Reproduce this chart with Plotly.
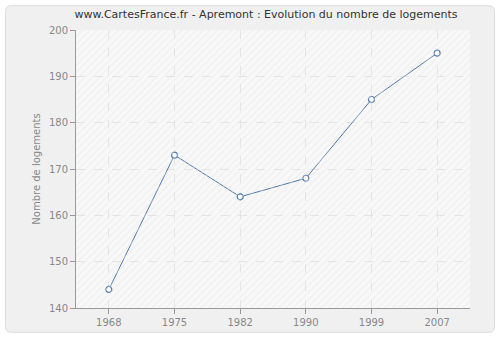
import plotly.graph_objects as go

years = ["1968", "1975", "1982", "1990", "1999", "2007"]
logements = [144, 173, 164, 168, 185, 195]
y_ticks = [140, 150, 160, 170, 180, 190, 200]

W, H = 500, 340
ML, MR, MT, MB = 76, 30, 30, 30
PW, PH = W - ML - MR, H - MT - MB

def px(x):
    return (x - ML) / PW

def py(y):
    return 1 - (y - MT) / PH

fig = go.Figure()

# hatched background of plot area
fig.add_trace(go.Bar(
    x=[0.5], y=[60], base=[140], width=[1], xaxis="x2", yaxis="y",
    marker=dict(color="rgba(0,0,0,0)", line=dict(width=0),
                pattern=dict(shape="/", fgcolor="#e6e6e6", bgcolor="rgba(0,0,0,0)",
                             size=5, solidity=0.25, fillmode="overlay")),
    hoverinfo="skip", showlegend=False,
))

fig.add_trace(go.Scatter(
    x=years, y=logements, mode="lines+markers",
    line=dict(color="#4a76ab", width=1),
    marker=dict(size=6, color="white", line=dict(color="#4a76ab", width=1.2)),
    showlegend=False,
))

# outer rounded panel
x0, x1, y0, y1, r = 5.5, 494.5, 5.5, 334.5, 6
def P(x, y):
    return f"{px(x)},{py(y)}"
path = (f"M {P(x0 + r, y0)} L {P(x1 - r, y0)} Q {P(x1, y0)} {P(x1, y0 + r)} "
        f"L {P(x1, y1 - r)} Q {P(x1, y1)} {P(x1 - r, y1)} "
        f"L {P(x0 + r, y1)} Q {P(x0, y1)} {P(x0, y1 - r)} "
        f"L {P(x0, y0 + r)} Q {P(x0, y0)} {P(x0 + r, y0)} Z")
fig.add_shape(type="path", path=path, xref="paper", yref="paper",
              fillcolor="#f0f0f0", line=dict(color="#dcdcdc", width=1), layer="below")
# plot area background
fig.add_shape(type="rect", x0=0, x1=1, y0=0, y1=1, xref="paper", yref="paper",
              fillcolor="#f8f8f8", line=dict(width=0), layer="below")

fig.update_layout(
    width=W, height=H,
    margin=dict(l=ML, r=MR, t=MT, b=MB),
    paper_bgcolor="white",
    plot_bgcolor="#f8f8f8",
    font=dict(family="DejaVu Sans", size=11, color="#888888"),
    title=dict(text="www.CartesFrance.fr - Apremont : Evolution du nombre de logements",
               x=266 / W, xref="container", xanchor="center",
               y=1 - 14 / H, yref="container", yanchor="middle",
               font=dict(size=11, color="#333333")),
    xaxis=dict(type="category", range=[-0.5, 5.5],
               showline=True, linecolor="#999999", linewidth=1,
               ticks="outside", ticklen=5, tickcolor="#999999",
               showgrid=True, gridcolor="#e4e4e4", griddash="dash", gridwidth=1,
               zeroline=False, tickfont=dict(size=10, color="#888888")),
    xaxis2=dict(range=[0, 1], overlaying="x", visible=False, showgrid=False),
    yaxis=dict(range=[140, 200], tickvals=y_ticks,
               showline=True, linecolor="#999999", linewidth=1,
               ticks="outside", ticklen=5, tickcolor="#999999",
               showgrid=True, gridcolor="#e4e4e4", griddash="dash", gridwidth=1,
               zeroline=False, tickfont=dict(size=10, color="#888888"),
               title=dict(text="Nombre de logements", standoff=6,
                          font=dict(size=10, color="#888888"))),
    bargap=0,
)

fig.write_html("out.html")
